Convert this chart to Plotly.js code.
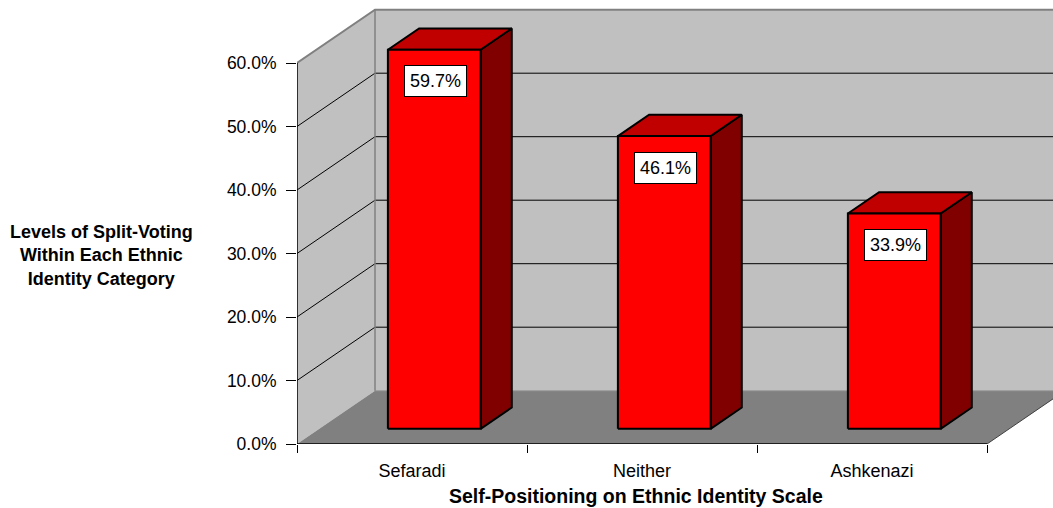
<!DOCTYPE html>
<html>
<head>
<meta charset="utf-8">
<script src="https://cdn.plot.ly/plotly-3.0.1.min.js"></script>
<style>
  html, body { margin: 0; padding: 0; background: #ffffff; }
  #chart { width: 1053px; height: 508px; }
</style>
</head>
<body>
<div id="chart"></div>
<script>
// ---- data ----
const categories = ['Sefaradi', 'Neither', 'Ashkenazi'];
const splitVoting = [59.7, 46.1, 33.9];          // percent of split voters
const yTickValues = [0, 10, 20, 30, 40, 50, 60];
const yTickLabels = ['0.0%', '10.0%', '20.0%', '30.0%', '40.0%', '50.0%', '60.0%'];
const xTitleText = 'Self-Positioning on Ethnic Identity Scale';
const yTitleText = 'Levels of Split-Voting<br>Within Each Ethnic<br>Identity Category';

// ---- layout geometry (pseudo-3D projection) ----
const W = 1053, H = 508;
const M = { l: 297, r: 0, t: 8, b: 64 };
const PX_PER_CAT = 230;     // pixels per category on the front plane
const PX_PER_PCT = 6.35;    // pixels per percentage point
const DEPTH_X = 78 / PX_PER_CAT;     // full depth offset, in category units
const DEPTH_Y = 53.3 / PX_PER_PCT;   // full depth offset, in percent units
const WALL_TOP = yTickValues[yTickValues.length - 1];
const BAR_HALF = 0.2015;             // half bar width (category units)
const BAR_Z0 = 0.285, BAR_Z1 = 0.685; // bar front / back depth fractions

const xMax = (W - M.l - M.r) / PX_PER_CAT;
const yMax = (H - M.t - M.b) / PX_PER_PCT;
const nCat = categories.length;

const FONT = 'Liberation Sans, Arial, Helvetica, sans-serif';
const FS = 18;

const traces = [];
function poly(xs, ys, fill, lineColor, lineWidth) {
  traces.push({
    type: 'scatter', mode: 'lines', x: xs.concat([xs[0]]), y: ys.concat([ys[0]]),
    fill: 'toself', fillcolor: fill,
    line: { color: lineColor || fill, width: lineWidth || 0, shape: 'linear' },
    hoverinfo: 'skip', showlegend: false
  });
}
function line(xs, ys, color, width) {
  traces.push({
    type: 'scatter', mode: 'lines', x: xs, y: ys,
    line: { color: color, width: width },
    hoverinfo: 'skip', showlegend: false
  });
}

// back wall
const farX = xMax + 0.2;
poly([DEPTH_X, farX, farX, DEPTH_X], [DEPTH_Y, DEPTH_Y, WALL_TOP + DEPTH_Y, WALL_TOP + DEPTH_Y], '#c0c0c0');
// side wall
poly([0, DEPTH_X, DEPTH_X, 0], [0, DEPTH_Y, WALL_TOP + DEPTH_Y, WALL_TOP], '#c0c0c0');
// floor
poly([0, nCat, nCat + DEPTH_X, DEPTH_X], [0, 0, DEPTH_Y, DEPTH_Y], '#808080');
// wall / floor seam
line([DEPTH_X, farX], [DEPTH_Y, DEPTH_Y], '#9a9a9a', 1);

// gridlines across side wall and back wall
yTickValues.slice(1, -1).forEach(v => {
  line([0, DEPTH_X, farX], [v, v + DEPTH_Y, v + DEPTH_Y], '#000000', 1);
});

// wall edges
line([DEPTH_X, DEPTH_X], [DEPTH_Y, WALL_TOP + DEPTH_Y], '#808080', 1.5);
line([0, DEPTH_X, farX], [WALL_TOP, WALL_TOP + DEPTH_Y, WALL_TOP + DEPTH_Y], '#808080', 2);
// floor right edge
line([nCat, nCat + DEPTH_X], [0, DEPTH_Y], '#404040', 1);
// front axis lines
line([0, 0], [0, WALL_TOP], '#000000', 1.5);
line([0, nCat], [0, 0], '#000000', 1.5);

// bars
const annotations = [];
splitVoting.forEach((val, i) => {
  const c = i + 0.5;
  const ox = BAR_Z0 * DEPTH_X, oy = BAR_Z0 * DEPTH_Y;
  const dx = (BAR_Z1 - BAR_Z0) * DEPTH_X, dy = (BAR_Z1 - BAR_Z0) * DEPTH_Y;
  const xl = c - BAR_HALF + ox, xr = c + BAR_HALF + ox;
  const yb = oy, yt = val + oy;
  // side face
  poly([xr, xr + dx, xr + dx, xr], [yb, yb + dy, yt + dy, yt], '#800000', '#000000', 2);
  // top face
  poly([xl, xr, xr + dx, xl + dx], [yt, yt, yt + dy, yt + dy], '#c00000', '#000000', 2);
  // front face
  poly([xl, xr, xr, xl], [yb, yb, yt, yt], '#ff0000', '#000000', 2);

  annotations.push({
    xref: 'x', yref: 'y', x: c + ox, y: yt,
    text: val.toFixed(1) + '%', showarrow: false,
    xanchor: 'center', yanchor: 'middle', yshift: -31.5, xshift: 1,
    bgcolor: '#ffffff', bordercolor: '#000000', borderwidth: 1, borderpad: 5,
    font: { family: FONT, size: FS, color: '#000000' }
  });
});

// axis titles
annotations.push({
  xref: 'x', yref: 'paper', x: nCat / 2, y: -(496 - (H - M.b)) / (H - M.t - M.b),
  xshift: -6,
  text: '<b>' + xTitleText + '</b>', showarrow: false,
  xanchor: 'center', yanchor: 'middle',
  font: { family: FONT, size: 19.5, color: '#000000' }
});
annotations.push({
  xref: 'paper', yref: 'paper', x: (102 - M.l) / (W - M.l - M.r), y: ((H - M.b) - 255) / (H - M.t - M.b),
  text: '<b>' + yTitleText + '</b>', showarrow: false, align: 'center',
  xanchor: 'center', yanchor: 'middle',
  font: { family: FONT, size: 18, color: '#000000' }
});

const layout = {
  width: W, height: H,
  margin: M,
  paper_bgcolor: '#ffffff', plot_bgcolor: '#ffffff',
  showlegend: false,
  font: { family: FONT, size: FS, color: '#000000' },
  xaxis: {
    range: [0, xMax], fixedrange: true,
    showgrid: false, zeroline: false, showline: false,
    tickmode: 'array',
    tickvals: categories.map((_, i) => i + 0.5),
    ticktext: categories,
    ticks: '', ticklabelstandoff: 14, ticklabelshift: -4.5,
    tickfont: { family: FONT, size: FS, color: '#000000' },
    minor: {
      tickmode: 'array',
      tickvals: Array.from({ length: nCat + 1 }, (_, i) => i),
      ticks: 'outside', ticklen: 8, tickwidth: 1, tickcolor: '#000000',
      showgrid: false
    }
  },
  yaxis: {
    range: [0, yMax], fixedrange: true,
    showgrid: false, zeroline: false, showline: false,
    tickmode: 'array', tickvals: yTickValues, ticktext: yTickLabels,
    ticks: 'outside', ticklen: 10, tickwidth: 1, tickcolor: '#000000',
    ticklabelstandoff: 6,
    tickfont: { family: FONT, size: 17.5, color: '#000000' }
  },
  annotations: annotations
};

Plotly.newPlot('chart', traces, layout, { staticPlot: true, displayModeBar: false });
</script>
</body>
</html>
